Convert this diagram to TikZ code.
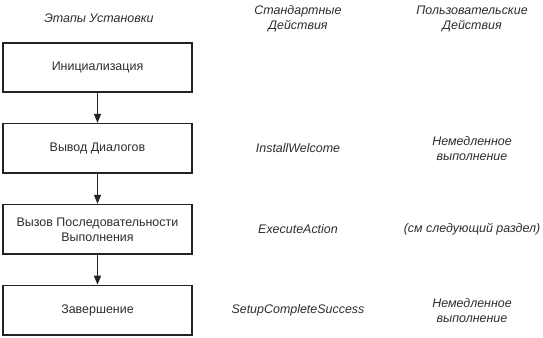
\documentclass[tikz,border=0pt]{standalone}
\usepackage{fontspec}
\setmainfont{Liberation Sans}
\usetikzlibrary{arrows.meta, positioning}
\definecolor{stagecolor}{RGB}{35, 35, 35}
\definecolor{notecolor}{RGB}{45, 45, 45}

\tikzset{
  stagebox/.style={draw=stagecolor, line width=1.6bp, minimum width=189.5bp, minimum height=49.5bp,
    align=center, text=notecolor, font=\fontsize{12.5}{15}\selectfont},
  colnote/.style={align=center, text=notecolor, font=\fontsize{12.5}{15}\selectfont\itshape},
  flowarrow/.style={-{Triangle[length=9bp, width=7bp]}, line width=1.2bp, draw=stagecolor}
}

\begin{document}
\begin{tikzpicture}[x=1bp, y=-1bp]
\useasboundingbox (0,0) rectangle (543,337);

% column headings
\node[colnote] (stagehead) at (99,18) {Этапы Установки};
\node[colnote] (stdhead) at (298,19) {Стандартные\\Действия};
\node[colnote] (userhead) at (472,19) {Пользовательские\\Действия};

% installation stages
\node[stagebox] (init) at (97.5,67.5) {Инициализация};
\node[stagebox, below=29.8bp of init] (dialogs) {Вывод Диалогов};
\node[stagebox, below=29.8bp of dialogs] (execseq) {Вызов Последовательности\\Выполнения};
\node[stagebox, below=29.8bp of execseq] (finish) {Завершение};

\draw[flowarrow] (init) -- (dialogs);
\draw[flowarrow] (dialogs) -- (execseq);
\draw[flowarrow] (execseq) -- (finish);

% standard actions
\node[colnote] (welcome) at (dialogs -| stdhead) {InstallWelcome};
\node[colnote] (execaction) at (execseq -| stdhead) {ExecuteAction};
\node[colnote] (complete) at (finish -| stdhead) {SetupCompleteSuccess};

% custom actions
\node[colnote] (userdialogs) at (dialogs -| userhead) {Немедленное\\выполнение};
\node[colnote] (userexec) at (execseq -| userhead) {(см следующий раздел)};
\node[colnote] (userfinish) at (finish -| userhead) {Немедленное\\выполнение};
\end{tikzpicture}
\end{document}
